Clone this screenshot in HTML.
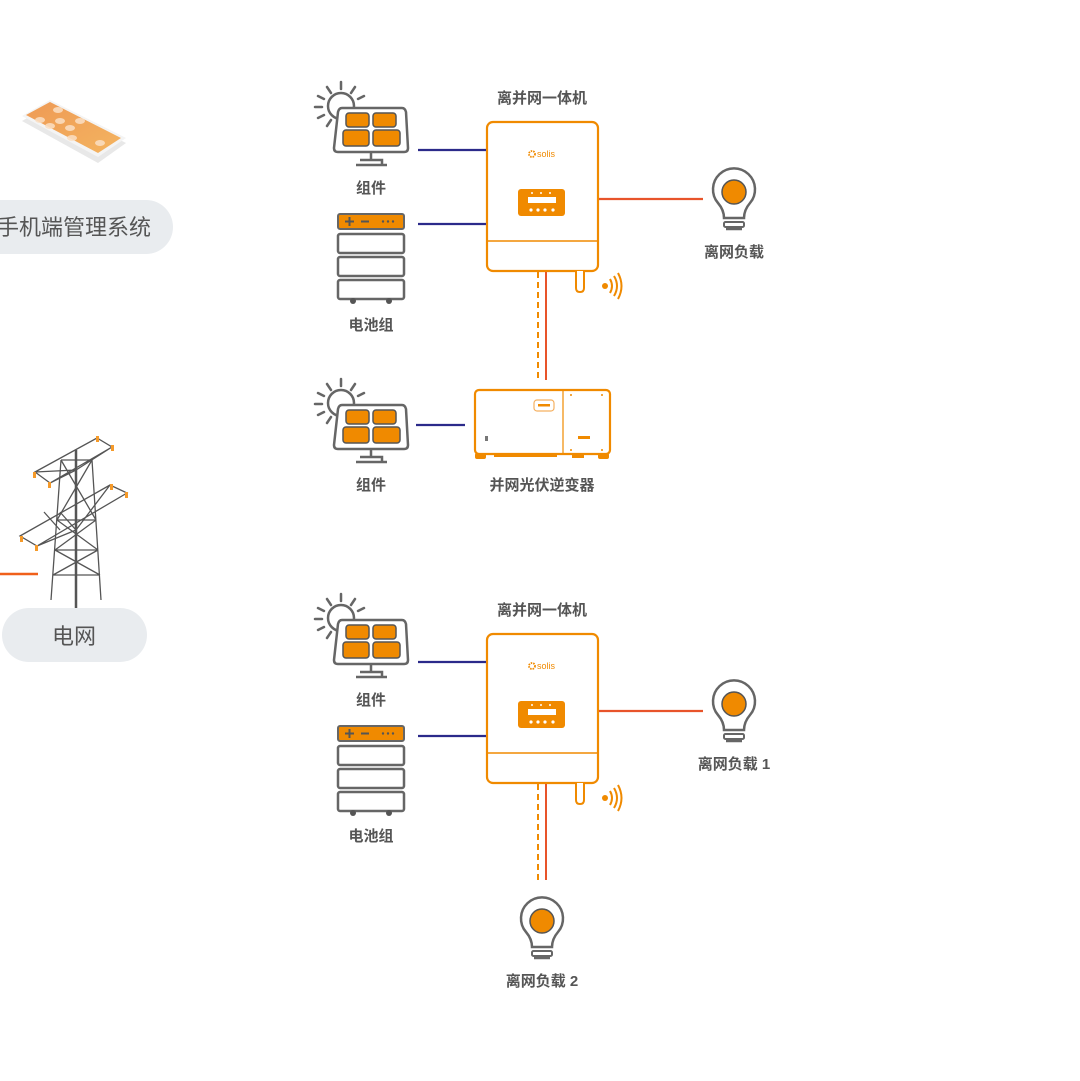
<!DOCTYPE html>
<html><head><meta charset="utf-8"><style>
html,body{margin:0;padding:0;background:#fff;}
svg{display:block;}
text{font-family:"Liberation Sans","Noto Sans CJK SC",sans-serif;fill:#555;}
</style></head><body>
<svg width="1080" height="1081" viewBox="0 0 1080 1081" xmlns="http://www.w3.org/2000/svg">
<defs>
<linearGradient id="pg" x1="0" y1="0" x2="1" y2="1"><stop offset="0" stop-color="#ee9a55"/><stop offset="1" stop-color="#f4b460"/></linearGradient>
<g id="panel">
  <circle cx="341" cy="106" r="13" fill="none" stroke="#666" stroke-width="2.5"/>
  <g stroke="#666" stroke-width="2.5" stroke-linecap="round">
    <line x1="341" y1="82" x2="341" y2="89"/>
    <line x1="327" y1="87" x2="331" y2="93"/>
    <line x1="355" y1="87" x2="351" y2="93"/>
    <line x1="318" y1="96" x2="324" y2="99"/>
    <line x1="364" y1="96" x2="358" y2="99"/>
    <line x1="315" y1="107" x2="322" y2="107"/>
    <line x1="318" y1="118" x2="324" y2="115"/>
    <line x1="327" y1="126" x2="331" y2="120"/>
  </g>
  <path d="M342 108 H402 Q405 108 406 112 L408 148 Q408 152 404 152 H338 Q334 152 334 148 L338 112 Q339 108 342 108 Z" fill="#fff" stroke="#666" stroke-width="2.5"/>
  <rect x="346" y="113" width="23" height="14" rx="3" fill="#f08a00" stroke="#555" stroke-width="1.5"/>
  <rect x="373" y="113" width="23" height="14" rx="3" fill="#f08a00" stroke="#555" stroke-width="1.5"/>
  <rect x="343" y="130" width="26" height="16" rx="3" fill="#f08a00" stroke="#555" stroke-width="1.5"/>
  <rect x="373" y="130" width="27" height="16" rx="3" fill="#f08a00" stroke="#555" stroke-width="1.5"/>
  <path d="M371 153 V160 M356 165 H387 M360 160 H382 V165" stroke="#666" stroke-width="2.5" fill="none"/>
</g>
<g id="battery">
  <rect x="338" y="214" width="66" height="15" rx="2" fill="#f08a00" stroke="#666" stroke-width="2"/>
  <path d="M345 221.5 H354 M349.5 217 V226 M361 221.5 H369" stroke="#555" stroke-width="2"/>
  <g fill="#555"><circle cx="383" cy="221.5" r="1.2"/><circle cx="388" cy="221.5" r="1.2"/><circle cx="393" cy="221.5" r="1.2"/></g>
  <rect x="338" y="234" width="66" height="19" rx="2" fill="#fff" stroke="#666" stroke-width="2.5"/>
  <rect x="338" y="257" width="66" height="19" rx="2" fill="#fff" stroke="#666" stroke-width="2.5"/>
  <rect x="338" y="280" width="66" height="19" rx="2" fill="#fff" stroke="#666" stroke-width="2.5"/>
  <circle cx="353" cy="301" r="3" fill="#555"/><circle cx="389" cy="301" r="3" fill="#555"/>
</g>
<g id="inv">
  <rect x="487" y="122" width="111" height="149" rx="6" fill="#fff" stroke="#f08a00" stroke-width="2.2"/>
  <line x1="487" y1="241" x2="598" y2="241" stroke="#f08a00" stroke-width="1.5"/>
  <circle cx="532" cy="154" r="3" fill="none" stroke="#f08a00" stroke-width="1.8" stroke-dasharray="1.5 1"/>
  <text x="537" y="157" font-size="9" style="fill:#f08a00">solis</text>
  <rect x="518" y="189" width="47" height="27" rx="3" fill="#f08a00"/>
  <rect x="528" y="197" width="28" height="6" fill="#fff"/>
  <g fill="#fff"><circle cx="532" cy="193" r="1"/><circle cx="541" cy="193" r="1"/><circle cx="550" cy="193" r="1"/>
  <circle cx="531" cy="210" r="1.6"/><circle cx="538" cy="210" r="1.6"/><circle cx="545" cy="210" r="1.6"/><circle cx="553" cy="210" r="1.6"/></g>
  <path d="M576 271 V288 Q576 292 580 292 Q584 292 584 288 V271" fill="#fff" stroke="#f08a00" stroke-width="2"/>
  <circle cx="605" cy="286" r="3" fill="#f08a00"/>
  <path d="M610 279 Q614 286 610 293 M614 276 Q620 286 614 296 M618 273 Q625 286 618 299" fill="none" stroke="#f08a00" stroke-width="2"/>
</g>
<g id="bulb">
  <path d="M724 218 Q724 210 718 203 A21 21 0 1 1 750 203 Q744 210 744 218 Z" fill="#fff" stroke="#666" stroke-width="2.5"/>
  <circle cx="734" cy="192" r="12" fill="#f08a00" stroke="#555" stroke-width="1.5"/>
  <rect x="724" y="222" width="20" height="5" rx="1.5" fill="#fff" stroke="#666" stroke-width="2"/>
  <path d="M726 229 H742" stroke="#666" stroke-width="2.5"/>
</g>
</defs>

<!-- phone -->
<polygon points="22,118 50,102 126,140 98,160" fill="#e8e8e8" transform="translate(0,3)"/>
<polygon points="22,116 50,100 126,138 98,157" fill="#f4f4f4"/>
<polygon points="26,115 50,102 121,138 98,153" fill="url(#pg)"/>
<g fill="#fbe0c5" opacity="0.85">
  <ellipse cx="58" cy="110" rx="5" ry="3"/><ellipse cx="40" cy="120" rx="5" ry="3"/><ellipse cx="60" cy="121" rx="5" ry="3"/><ellipse cx="80" cy="121" rx="5" ry="3"/><ellipse cx="50" cy="126" rx="5" ry="3"/><ellipse cx="70" cy="128" rx="5" ry="3"/><ellipse cx="72" cy="138" rx="5" ry="3"/><ellipse cx="100" cy="143" rx="5" ry="3"/>
</g>
<rect x="-40" y="200" width="213" height="54" rx="27" fill="#e9ecef"/>
<text x="-3" y="235" font-size="22">手机端管理系统</text>

<!-- tower -->
<g stroke="#555" stroke-width="1.3" fill="none">
  <line x1="76" y1="450" x2="76" y2="614" stroke-width="2.5"/>
  <path d="M61 460 L51 600 M92 460 L101 600 M61 460 H92 M57 520 H96 M55 550 H98 M53 575 H100 M61 460 L96 520 M92 460 L57 520 M57 520 L98 550 M96 520 L55 550 M55 550 L100 575 M98 550 L53 575"/>
  <path d="M35 472 L97 438 L112 447 L50 483 Z M35 472 L76 470 L112 447 M50 483 L76 470"/>
  <path d="M20 536 L110 485 L127 493 L37 546 Z M60 512 L76 530 L110 485 M37 546 L76 530 M44 512 L60 530"/>
</g>
<g fill="#f59a2a"><rect x="96" y="436" width="3" height="6"/><rect x="111" y="445" width="3" height="6"/><rect x="33" y="472" width="3" height="6"/><rect x="48" y="482" width="3" height="6"/><rect x="110" y="484" width="3" height="6"/><rect x="125" y="492" width="3" height="6"/><rect x="20" y="536" width="3" height="6"/><rect x="35" y="545" width="3" height="6"/></g>
<line x1="0" y1="574" x2="38" y2="574" stroke="#f0601a" stroke-width="2.5"/>
<rect x="2" y="608" width="145" height="54" rx="27" fill="#e9ecef"/>
<text x="74" y="644" font-size="22" text-anchor="middle">电网</text>

<!-- section 1 -->
<use href="#panel"/>
<text x="371" y="193" font-size="15" font-weight="bold" text-anchor="middle">组件</text>
<use href="#battery"/>
<text x="371" y="330" font-size="15" font-weight="bold" text-anchor="middle">电池组</text>
<text x="542" y="103" font-size="15" font-weight="bold" text-anchor="middle">离并网一体机</text>
<use href="#inv"/>
<line x1="418" y1="150" x2="486" y2="150" stroke="#2b2a8a" stroke-width="2.2"/>
<line x1="418" y1="224" x2="486" y2="224" stroke="#2b2a8a" stroke-width="2.2"/>
<line x1="599" y1="199" x2="703" y2="199" stroke="#e8542a" stroke-width="2.2"/>
<use href="#bulb"/>
<text x="734" y="257" font-size="15" font-weight="bold" text-anchor="middle">离网负载</text>
<line x1="538" y1="272" x2="538" y2="380" stroke="#f08a00" stroke-width="2" stroke-dasharray="6 4"/>
<line x1="546" y1="272" x2="546" y2="380" stroke="#e8542a" stroke-width="2"/>

<!-- section 2 -->
<use href="#panel" transform="translate(0,297)"/>
<text x="371" y="490" font-size="15" font-weight="bold" text-anchor="middle">组件</text>
<line x1="416" y1="425" x2="465" y2="425" stroke="#2b2a8a" stroke-width="2.2"/>
<rect x="475" y="390" width="135" height="64" rx="4" fill="#fff" stroke="#f08a00" stroke-width="2.2"/>
<line x1="563" y1="391" x2="563" y2="453" stroke="#f08a00" stroke-width="1.2"/>
<rect x="534" y="400" width="20" height="11" rx="3" fill="#fff" stroke="#f5b060" stroke-width="1.2"/>
<rect x="538" y="404" width="12" height="2.5" fill="#f08a00"/>
<g fill="#f08a00"><rect x="475" y="453" width="11" height="6" rx="2"/><rect x="494" y="454" width="63" height="3"/><rect x="572" y="453" width="12" height="5"/><rect x="598" y="453" width="11" height="6" rx="2"/>
<circle cx="571" cy="395" r="1"/><circle cx="602" cy="395" r="1"/><circle cx="571" cy="450" r="1"/><circle cx="602" cy="450" r="1"/><rect x="578" y="436" width="12" height="3"/></g>
<rect x="485" y="436" width="3" height="5" fill="#777"/>
<text x="542" y="490" font-size="15" font-weight="bold" text-anchor="middle">并网光伏逆变器</text>

<!-- section 3 -->
<use href="#panel" transform="translate(0,512)"/>
<text x="371" y="705" font-size="15" font-weight="bold" text-anchor="middle">组件</text>
<use href="#battery" transform="translate(0,512)"/>
<text x="371" y="841" font-size="15" font-weight="bold" text-anchor="middle">电池组</text>
<text x="542" y="615" font-size="15" font-weight="bold" text-anchor="middle">离并网一体机</text>
<use href="#inv" transform="translate(0,512)"/>
<line x1="418" y1="662" x2="486" y2="662" stroke="#2b2a8a" stroke-width="2.2"/>
<line x1="418" y1="736" x2="486" y2="736" stroke="#2b2a8a" stroke-width="2.2"/>
<line x1="599" y1="711" x2="703" y2="711" stroke="#e8542a" stroke-width="2.2"/>
<use href="#bulb" transform="translate(0,512)"/>
<text x="734" y="769" font-size="15" font-weight="bold" text-anchor="middle">离网负载 1</text>
<line x1="538" y1="784" x2="538" y2="880" stroke="#f08a00" stroke-width="2" stroke-dasharray="6 4"/>
<line x1="546" y1="784" x2="546" y2="880" stroke="#e8542a" stroke-width="2"/>
<use href="#bulb" transform="translate(-192,729)"/>
<text x="542" y="986" font-size="15" font-weight="bold" text-anchor="middle">离网负载 2</text>
</svg>
</body></html>
